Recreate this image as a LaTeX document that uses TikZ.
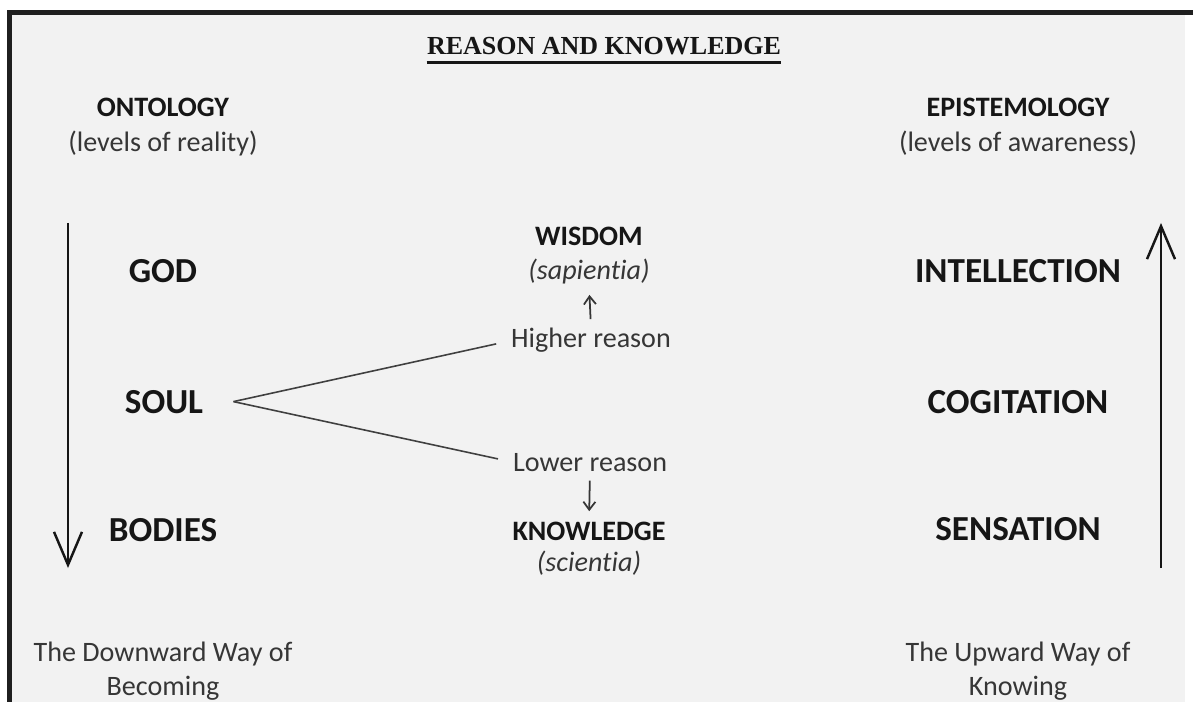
\documentclass[tikz,border=0pt]{standalone}
\usepackage{fontspec}
\setmainfont[Ligatures=NoCommon]{Carlito}
\newfontfamily\titlefont{Liberation Serif}
\usetikzlibrary{arrows.meta}

\definecolor{paper}{HTML}{F2F2F2}
\definecolor{ink}{HTML}{161616}
\definecolor{softink}{HTML}{363636}

\begin{document}
\begin{tikzpicture}[x=0.02cm, y=-0.02cm,
		level/.style={anchor=base, inner sep=0pt, text=ink, font=\fontsize{20}{24}\selectfont\bfseries},
		heading/.style={anchor=base, inner sep=0pt, text=ink, font=\fontsize{16}{19}\selectfont\bfseries},
		note/.style={anchor=base, inner sep=0pt, text=softink, font=\fontsize{16}{19}\selectfont},
		latin/.style={note, font=\fontsize{16}{19}\selectfont\itshape},
		way/.style={note, align=center, font=\fontsize{16}{18.8}\selectfont},
		big arrow/.style={line width=1.6pt, ink, -{Straight Barb[length=0.66cm, width=0.56cm, line width=1.4pt]}},
		small arrow/.style={line width=1pt, softink, shorten <=0.18cm, shorten >=0.2cm, -{Straight Barb[length=0.16cm, width=0.24cm]}},
		branch/.style={line width=0.9pt, black!75, shorten >=0.3cm}]

		% frame and paper
		\useasboundingbox (0,0) rectangle (1193,702);
		\fill[paper] (12,15) rectangle (1185,702);
		\draw[line width=0.1cm, black!88] (9.5,702) -- (9.5,12.5) -- (1193,12.5);

		% title
		\node [anchor=base, inner sep=0pt, text=ink, font=\titlefont\fontsize{14.8}{17}\selectfont\bfseries] (title) at (604,55) {REASON AND KNOWLEDGE};
		\draw [line width=1.3pt, ink] ([yshift=-0.15cm]title.base west) -- ([yshift=-0.15cm]title.base east);

		% column heads
		\node [heading] (onto) at (163,117) {ONTOLOGY};
		\node [note] (reality) at (163,152) {(levels of reality)};
		\node [heading] (episte) at (1018,117) {EPISTEMOLOGY};
		\node [note] (aware) at (1018,152) {(levels of awareness)};

		% levels of reality
		\node [level] (god) at (163,283) {GOD};
		\node [level] (soul) at (164,413) {SOUL};
		\node [level] (bodies) at (163,541) {BODIES};

		% levels of awareness
		\node [level] (intel) at (1018,283) {INTELLECTION};
		\node [level] (cogit) at (1018,414) {COGITATION};
		\node [level] (sens) at (1018,540) {SENSATION};

		% the two reasons
		\node [heading] (wisdom) at (589,246) {WISDOM};
		\node [latin] (sap) at (589,280) {(sapientia)};
		\node [note] (higher) at (591,348) {Higher reason};
		\node [note] (lower) at (590,471) {Lower reason};
		\node [heading] (knowl) at (589,540) {KNOWLEDGE};
		\node [latin] (scien) at (589,571) {(scientia)};

		\draw [small arrow] (higher.north) -- (sap.south);
		\draw [small arrow] (lower.south) -- (knowl.north);

		\coordinate (fork) at ([xshift=0.6cm]soul.east);
		\foreach \r in {higher, lower}
			\draw [branch] (fork) -- (\r.west);

		% the two ways
		\coordinate (downtop) at (68,223);
		\coordinate (downend) at (68,568);
		\coordinate (upbot) at (1161,568);
		\coordinate (uptop) at (1161,223);
		\draw [big arrow] (downtop) -- (downend);
		\draw [big arrow] (upbot) -- (uptop);

		% base is the last line here
		\node [way] (downway) at (163,695) {The Downward Way of\\Becoming};
		\node [way] (upway) at (1018,695) {The Upward Way of\\Knowing};
\end{tikzpicture}
\end{document}
